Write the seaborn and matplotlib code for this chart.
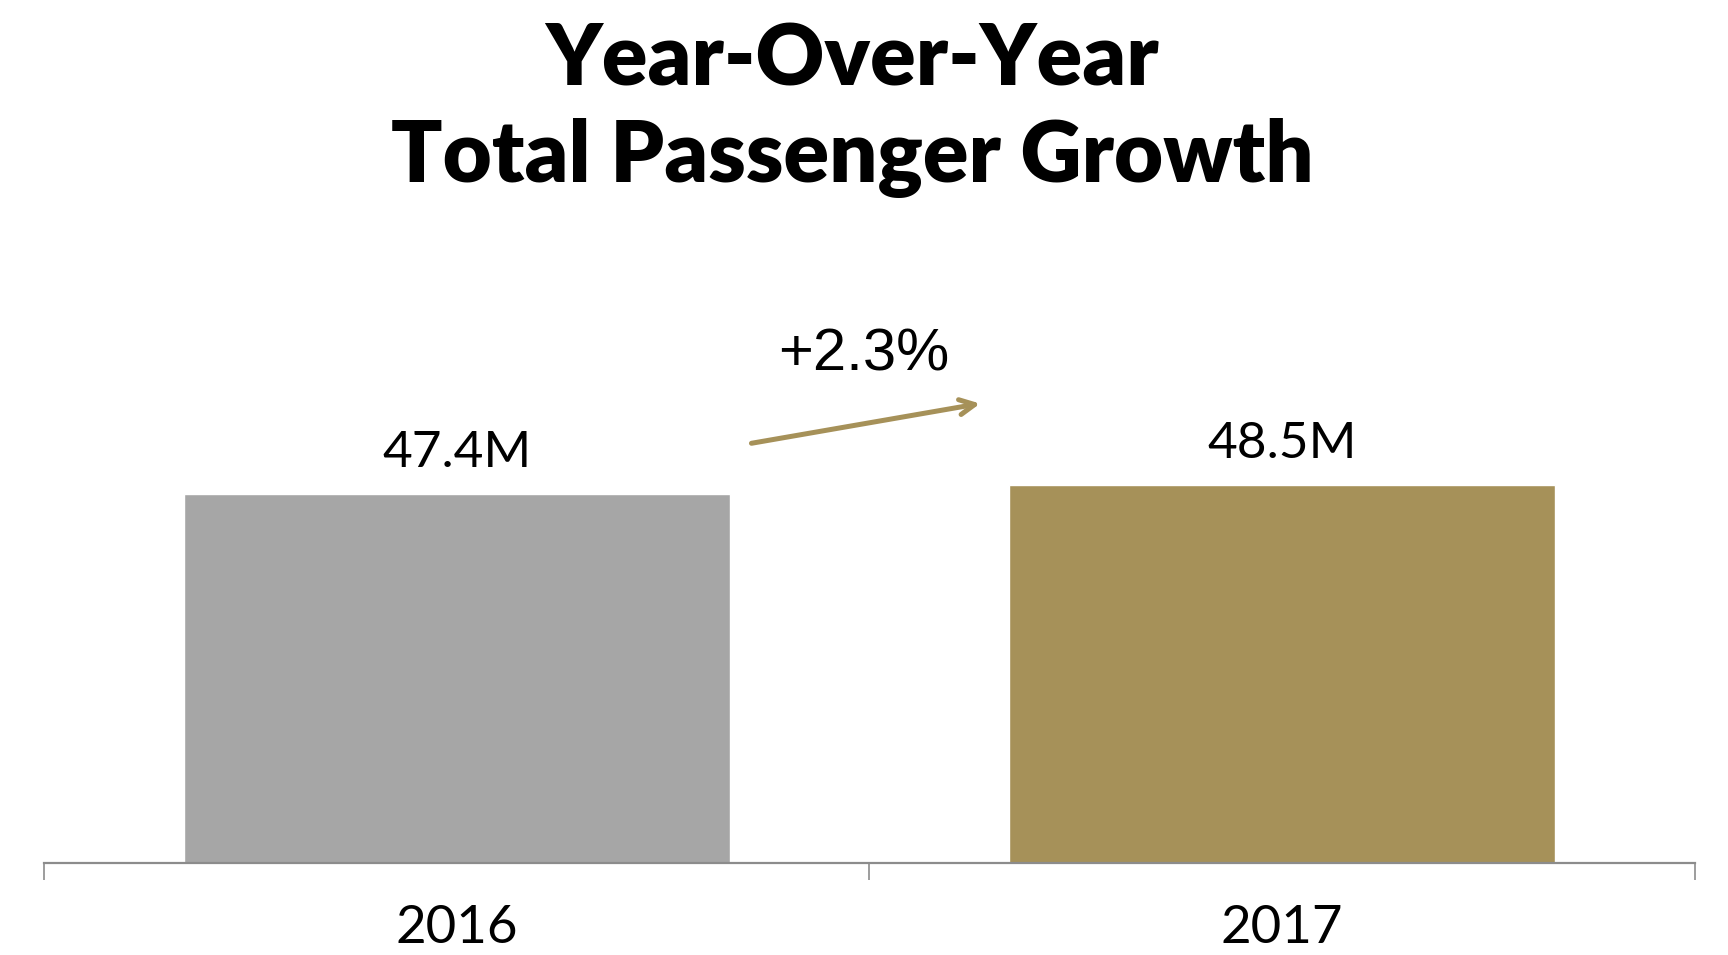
import matplotlib
matplotlib.use("Agg")
import matplotlib.pyplot as plt
import seaborn as sns
import pandas as pd
from matplotlib import font_manager

years = ["2016", "2017"]
passengers_m = [47.4, 48.5]
bar_colors = ["#A6A6A6", "#A69159"]
title_lines = ["Year-Over-Year", "Total Passenger Growth"]

sns.set_theme(style="white")
names = {f.name for f in font_manager.fontManager.ttflist}
main_font = "Lato" if "Lato" in names else "DejaVu Sans"
plt.rcParams["font.family"] = [main_font, "DejaVu Sans"]
plt.rcParams["text.color"] = "black"
plt.rcParams["xtick.color"] = "black"
plt.rcParams["xtick.labelcolor"] = "black"

df = pd.DataFrame({"year": years, "passengers": passengers_m})

fig = plt.figure(figsize=(17.28, 9.55), dpi=100)
ax = fig.add_axes([44 / 1728, 92 / 955, 1651 / 1728, 0.530])

sns.barplot(data=df, x="year", y="passengers", hue="year",
            palette=dict(zip(years, bar_colors)), width=0.662,
            saturation=1, legend=False, ax=ax)

ax.set_xlim(-0.5, 1.5)
ax.set_ylim(0, 65)

# value labels above each bar
for cont in ax.containers:
    ax.bar_label(cont, labels=[f"{v:.1f}M" for v in cont.datavalues],
                 padding=13, fontsize=37, fontweight="normal", color="black")

# growth annotation
growth = (passengers_m[1] / passengers_m[0] - 1) * 100
ax.annotate("", xy=(0.634, 59.0), xytext=(0.357, 53.9),
            arrowprops=dict(arrowstyle="->,head_length=0.9,head_width=0.45",
                            color="#A69159", lw=3.6, shrinkA=0, shrinkB=0),
            annotation_clip=False)
ax.text(0.493, 63.3, f"+{growth:.1f}%", ha="center", va="baseline",
        fontsize=43, family=["Liberation Sans", "DejaVu Sans"], color="black")

# axes styling: only a bottom baseline with separators between categories
for side in ["top", "left", "right"]:
    ax.spines[side].set_visible(False)
ax.spines["bottom"].set_color("#8C8C8C")
ax.spines["bottom"].set_linewidth(1.6)
ax.set_yticks([])
ax.set_xticks([0, 1])
ax.set_xticklabels(years)
ax.set_xticks([-0.5, 0.5, 1.5], minor=True)
ax.tick_params(axis="x", which="major", length=0, pad=30, labelsize=38,
               labelcolor="black")
ax.tick_params(axis="x", which="minor", length=12, width=1.2,
               color="#8C8C8C", direction="out", bottom=True)
for lbl in ax.get_xticklabels():
    lbl.set_fontweight("normal")
ax.set_xlabel("")
ax.set_ylabel("")

# two-line bold title
title_font = [main_font, "DejaVu Sans"]
fig.text(0.493, 1 - 85 / 955, title_lines[0], ha="center", va="baseline",
         fontsize=61, fontweight="heavy", family=title_font, color="black")
fig.text(0.493, 1 - 182 / 955, title_lines[1], ha="center", va="baseline",
         fontsize=61, fontweight="heavy", family=title_font, color="black")

fig.savefig("out.png", dpi=100, facecolor="white")
